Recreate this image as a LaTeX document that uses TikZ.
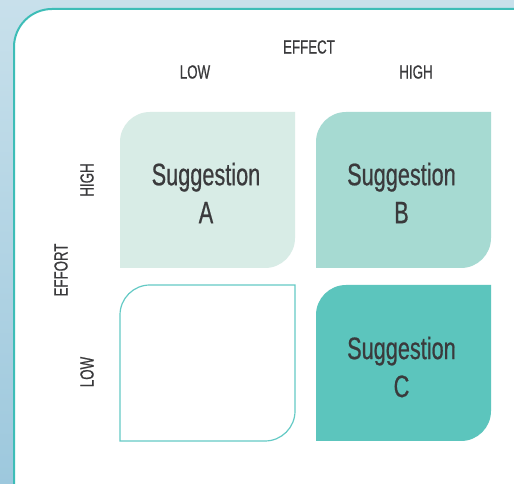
\documentclass[tikz,border=0pt]{standalone}
\usepackage{fontspec}
\setmainfont{Liberation Sans}[FakeStretch=0.7, FakeBold=0.6]
\usetikzlibrary{positioning}
\definecolor{bgtop}{HTML}{C8E0EB}
\definecolor{bgbot}{HTML}{9DC8DD}
\definecolor{rim}{HTML}{3DBDB7}
\definecolor{paleA}{HTML}{D8ECE6}
\definecolor{midB}{HTML}{A6DAD2}
\definecolor{deepC}{HTML}{5CC5BD}
\definecolor{ink}{HTML}{3A3A3C}
% leaf shaped box: #1 options, #2 left, #3 bottom, #4 right, #5 top
\newcommand{\leafbox}[5]{%
  \path[#1] (#2,#3) -- (#2,#5-30) arc[start angle=180,end angle=90,radius=30pt]
    -- (#4,#5) -- (#4,#3+30) arc[start angle=0,end angle=-90,radius=30pt] -- cycle;}

\begin{document}
\begin{tikzpicture}[x=1pt, y=1pt,
    lbl/.style={text=ink, font=\fontsize{19}{22}\selectfont, inner sep=0pt},
    sugg/.style={text=ink, align=center, font=\fontsize{31}{38}\selectfont, inner sep=0pt}]
  \useasboundingbox (0,0) rectangle (514,484);
  \clip (0,0) rectangle (514,484);
  % backdrop and panel
  \shade[top color=bgtop, bottom color=bgbot] (0,0) rectangle (514,484);
  \filldraw[fill=white, draw=rim, line width=2pt, rounded corners=38pt]
    (14,-60) -- (14,475) -- (580,475) -- (580,-60) -- cycle;
  % the four quadrants
  \leafbox{fill=paleA}{120}{216}{295}{372}
  \leafbox{fill=midB}{316}{216}{491}{372}
  \leafbox{draw=rim!80, fill=white, line width=1.2pt}{120}{43}{295}{199}
  \leafbox{fill=deepC}{316}{43}{491}{199}
  % axis labels
  \node[lbl] (effect) at (309,437) {EFFECT};
  \node[lbl] (effectlow) at (195,412) {LOW};
  \node[lbl] (effecthigh) at (416,412) {HIGH};
  \node[lbl, rotate=90] (effort) at (61,214) {EFFORT};
  \node[lbl, rotate=90] (efforthigh) at (87,304) {HIGH};
  \node[lbl, rotate=90] (effortlow) at (87,112) {LOW};
  % suggestions
  \node[sugg] (sugA) at (206,291) {Suggestion\\A};
  \node[sugg] (sugB) at (401.5,291) {Suggestion\\B};
  \node[sugg] (sugC) at (401.5,117) {Suggestion\\C};
\end{tikzpicture}
\end{document}
